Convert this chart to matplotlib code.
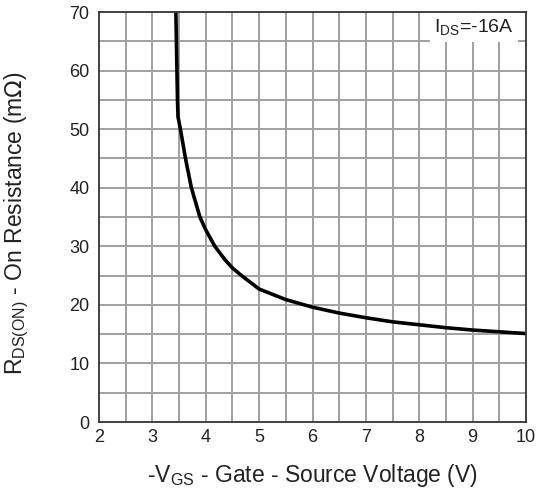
import matplotlib
matplotlib.use("Agg")
import matplotlib.pyplot as plt

plt.rcParams['font.family'] = ['Liberation Sans', 'DejaVu Sans']

# Data
vgs = [3.44, 3.45, 3.46, 3.47, 3.48, 3.525, 3.62, 3.73, 3.89, 4.0, 4.17, 4.36,
       4.5, 4.67, 5.0, 5.5, 6.0, 6.5, 7.0, 7.5, 8.0, 8.5, 9.0, 9.5, 10.0]
rds_on = [70, 65, 60, 55, 52.1, 50, 45, 40, 35, 32.8, 30, 27.7,
          26.3, 25, 22.7, 20.9, 19.6, 18.6, 17.8, 17.1, 16.6, 16.1, 15.7, 15.4, 15.1]
x_ticks = [2, 3, 4, 5, 6, 7, 8, 9, 10]
y_ticks = [0, 10, 20, 30, 40, 50, 60, 70]
annotation = r"I$_{\mathregular{DS}}$=-16A"

fig = plt.figure(figsize=(5.37, 4.98), dpi=100)
ax = fig.add_axes([0.1844, 0.1526, 0.7951, 0.8233])

ax.set_xlim(2, 10)
ax.set_ylim(0, 70)

# grid every 0.5 V and 5 mOhm
for v in [2 + 0.5 * i for i in range(1, 16)]:
    ax.axvline(v, color='#a0a0a0', lw=1.4, zorder=1)
for r in [5 * i for i in range(1, 14)]:
    ax.axhline(r, color='#a0a0a0', lw=1.4, zorder=1)

ax.plot(vgs, rds_on, color='black', lw=2.6, solid_capstyle='butt',
        solid_joinstyle='round', zorder=3)

ax.set_xticks(x_ticks)
ax.set_yticks(y_ticks)
ax.tick_params(length=0, labelsize=13, colors='#222222')
ax.tick_params(axis='y', pad=7)
ax.tick_params(axis='x', pad=5)

for s in ax.spines.values():
    s.set_color('#333333')
    s.set_linewidth(1.3)
    s.set_zorder(4)

ax.text(0.878, 0.962, annotation, transform=ax.transAxes, fontsize=14,
        ha='center', va='center', color='#222222', zorder=5,
        bbox=dict(facecolor='white', edgecolor='none', pad=3))

ax.set_xlabel(r"-V$_{\mathregular{GS}}$ - Gate - Source Voltage (V)", fontsize=16.5,
              color='#222222')
ax.xaxis.set_label_coords(0.5, -0.097)
ax.set_ylabel(r"R$_{\mathregular{DS(ON)}}$ - On Resistance (m$\Omega$)", fontsize=16.5,
              color='#222222')
ax.yaxis.set_label_coords(-0.159, 0.485)

fig.savefig("out.png", dpi=100)
